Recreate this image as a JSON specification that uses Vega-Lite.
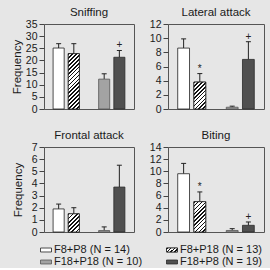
{
  "$schema": "https://vega.github.io/schema/vega-lite/v6.json",
  "background": "#e6e6e6",
  "autosize": {"type": "pad"},
  "padding": {"left": 10, "top": 6, "right": 8, "bottom": 1},
  "datasets": {
    "bars": [
      {"behavior": "Sniffing", "group": "F8+P8", "mean": 25.1, "upper": 26.9, "sig": ""},
      {"behavior": "Sniffing", "group": "F8+P18", "mean": 22.8, "upper": 26.9, "sig": ""},
      {"behavior": "Sniffing", "group": "F18+P18", "mean": 12.3, "upper": 14.5, "sig": ""},
      {"behavior": "Sniffing", "group": "F18+P8", "mean": 21.3, "upper": 24.1, "sig": "+"},
      {"behavior": "Lateral attack", "group": "F8+P8", "mean": 8.6, "upper": 9.9, "sig": ""},
      {"behavior": "Lateral attack", "group": "F8+P18", "mean": 3.8, "upper": 5.0, "sig": "*"},
      {"behavior": "Lateral attack", "group": "F18+P18", "mean": 0.25, "upper": 0.4, "sig": ""},
      {"behavior": "Lateral attack", "group": "F18+P8", "mean": 7.0, "upper": 9.5, "sig": "+"},
      {"behavior": "Frontal attack", "group": "F8+P8", "mean": 1.9, "upper": 2.3, "sig": ""},
      {"behavior": "Frontal attack", "group": "F8+P18", "mean": 1.5, "upper": 2.0, "sig": ""},
      {"behavior": "Frontal attack", "group": "F18+P18", "mean": 0.12, "upper": 0.42, "sig": ""},
      {"behavior": "Frontal attack", "group": "F18+P8", "mean": 3.7, "upper": 5.5, "sig": ""},
      {"behavior": "Biting", "group": "F8+P8", "mean": 9.6, "upper": 11.3, "sig": ""},
      {"behavior": "Biting", "group": "F8+P18", "mean": 5.0, "upper": 6.6, "sig": "*"},
      {"behavior": "Biting", "group": "F18+P18", "mean": 0.25, "upper": 0.55, "sig": ""},
      {"behavior": "Biting", "group": "F18+P8", "mean": 1.1, "upper": 1.65, "sig": "+"}
    ],
    "legendRows": [
      {"group": "F8+P8", "label": "F8+P8 (N = 14)", "col": 1, "row": 1},
      {"group": "F8+P18", "label": "F8+P18 (N = 13)", "col": 2, "row": 1},
      {"group": "F18+P18", "label": "F18+P18 (N = 10)", "col": 1, "row": 2},
      {"group": "F18+P8", "label": "F18+P8 (N = 19)", "col": 2, "row": 2}
    ]
  },
  "resolve": {"scale": {"x": "independent", "y": "independent"}},
  "vconcat": [
    {
      "resolve": {"scale": {"x": "independent", "y": "independent"}},
      "vconcat": [
        {
          "resolve": {"scale": {"x": "independent", "y": "independent"}},
          "hconcat": [
            {
              "title": "Sniffing",
              "width": 90, "height": 85,
              "data": {"name": "bars"},
              "transform": [{"filter": "datum.behavior == 'Sniffing'"}],
              "encoding": {
                "x": {"field": "group", "type": "nominal", "scale": {"domain": ["F8+P8", "F8+P18", "", "F18+P18", "F18+P8"], "paddingInner": 0.27, "paddingOuter": 0.6}, "axis": null}
              },
              "layer": [
                {"mark": {"type": "rule", "color": "#222", "strokeWidth": 1},
                 "encoding": {"y": {"field": "mean", "type": "quantitative", "scale": {"domain": [0, 35]}, "axis": {"values": [0, 5, 10, 15, 20, 25, 30, 35], "tickCount": 10, "format": "d", "labelOverlap": false, "title": "Frequency"}}, "y2": {"field": "upper"}}},
                {"mark": {"type": "tick", "size": 5, "thickness": 1, "color": "#222", "opacity": 1},
                 "encoding": {"y": {"field": "upper", "type": "quantitative"}}},
                {"mark": {"type": "bar", "strokeWidth": 0.8},
                 "encoding": {"y": {"field": "mean", "type": "quantitative"},
                   "fill": {"field": "group", "type": "nominal", "scale": {"domain": ["F8+P8", "F8+P18", "F18+P18", "F18+P8"], "range": ["#ffffff", "#ffffff", "#a3a3a3", "#505050"]}, "legend": null},
                   "stroke": {"field": "group", "type": "nominal", "scale": {"domain": ["F8+P8", "F8+P18", "F18+P18", "F18+P8"], "range": ["#222222", "#222222", "#555555", "#2a2a2a"]}, "legend": null}}},
                {"transform": [{"filter": "datum.group == 'F8+P18'"}],
                 "mark": {"type": "bar", "stroke": "#222", "strokeWidth": 0.8,
                   "fill": {"gradient": "linear", "x1": 0, "y1": 0, "x2": 0.2308, "y2": 1.1538, "stops": [
                     {"offset": 0, "color": "#111"}, {"offset": 0.0235, "color": "#111"}, {"offset": 0.0235, "color": "#fff"},
                     {"offset": 0.0588, "color": "#fff"}, {"offset": 0.0588, "color": "#111"}, {"offset": 0.0824, "color": "#111"}, {"offset": 0.0824, "color": "#fff"},
                     {"offset": 0.1176, "color": "#fff"}, {"offset": 0.1176, "color": "#111"}, {"offset": 0.1412, "color": "#111"}, {"offset": 0.1412, "color": "#fff"},
                     {"offset": 0.1765, "color": "#fff"}, {"offset": 0.1765, "color": "#111"}, {"offset": 0.2, "color": "#111"}, {"offset": 0.2, "color": "#fff"},
                     {"offset": 0.2353, "color": "#fff"}, {"offset": 0.2353, "color": "#111"}, {"offset": 0.2588, "color": "#111"}, {"offset": 0.2588, "color": "#fff"},
                     {"offset": 0.2941, "color": "#fff"}, {"offset": 0.2941, "color": "#111"}, {"offset": 0.3176, "color": "#111"}, {"offset": 0.3176, "color": "#fff"},
                     {"offset": 0.3529, "color": "#fff"}, {"offset": 0.3529, "color": "#111"}, {"offset": 0.3765, "color": "#111"}, {"offset": 0.3765, "color": "#fff"},
                     {"offset": 0.4118, "color": "#fff"}, {"offset": 0.4118, "color": "#111"}, {"offset": 0.4353, "color": "#111"}, {"offset": 0.4353, "color": "#fff"},
                     {"offset": 0.4706, "color": "#fff"}, {"offset": 0.4706, "color": "#111"}, {"offset": 0.4941, "color": "#111"}, {"offset": 0.4941, "color": "#fff"},
                     {"offset": 0.5294, "color": "#fff"}, {"offset": 0.5294, "color": "#111"}, {"offset": 0.5529, "color": "#111"}, {"offset": 0.5529, "color": "#fff"},
                     {"offset": 0.5882, "color": "#fff"}, {"offset": 0.5882, "color": "#111"}, {"offset": 0.6118, "color": "#111"}, {"offset": 0.6118, "color": "#fff"},
                     {"offset": 0.6471, "color": "#fff"}, {"offset": 0.6471, "color": "#111"}, {"offset": 0.6706, "color": "#111"}, {"offset": 0.6706, "color": "#fff"},
                     {"offset": 0.7059, "color": "#fff"}, {"offset": 0.7059, "color": "#111"}, {"offset": 0.7294, "color": "#111"}, {"offset": 0.7294, "color": "#fff"},
                     {"offset": 0.7647, "color": "#fff"}, {"offset": 0.7647, "color": "#111"}, {"offset": 0.7882, "color": "#111"}, {"offset": 0.7882, "color": "#fff"},
                     {"offset": 0.8235, "color": "#fff"}, {"offset": 0.8235, "color": "#111"}, {"offset": 0.8471, "color": "#111"}, {"offset": 0.8471, "color": "#fff"},
                     {"offset": 0.8824, "color": "#fff"}, {"offset": 0.8824, "color": "#111"}, {"offset": 0.9059, "color": "#111"}, {"offset": 0.9059, "color": "#fff"},
                     {"offset": 0.9412, "color": "#fff"}, {"offset": 0.9412, "color": "#111"}, {"offset": 0.9647, "color": "#111"}, {"offset": 0.9647, "color": "#fff"},
                     {"offset": 1, "color": "#fff"}]}},
                 "encoding": {"y": {"field": "mean", "type": "quantitative"}}},
                {"transform": [{"filter": "datum.sig != ''"}],
                 "mark": {"type": "text", "baseline": "alphabetic", "dy": -2, "fontSize": 10, "color": "#222"},
                 "encoding": {"y": {"field": "upper", "type": "quantitative"}, "text": {"field": "sig"}}}
              ]
            },
            {
              "title": "Lateral attack",
              "width": 96, "height": 85,
              "data": {"name": "bars"},
              "transform": [{"filter": "datum.behavior == 'Lateral attack'"}],
              "encoding": {
                "x": {"field": "group", "type": "nominal", "scale": {"domain": ["F8+P8", "F8+P18", "", "F18+P18", "F18+P8"], "paddingInner": 0.27, "paddingOuter": 0.6}, "axis": null}
              },
              "layer": [
                {"mark": {"type": "rule", "color": "#222", "strokeWidth": 1},
                 "encoding": {"y": {"field": "mean", "type": "quantitative", "scale": {"domain": [0, 12]}, "axis": {"values": [0, 2, 4, 6, 8, 10, 12], "tickCount": 10, "format": "d", "labelOverlap": false, "title": null}}, "y2": {"field": "upper"}}},
                {"mark": {"type": "tick", "size": 5, "thickness": 1, "color": "#222", "opacity": 1},
                 "encoding": {"y": {"field": "upper", "type": "quantitative"}}},
                {"mark": {"type": "bar", "strokeWidth": 0.8},
                 "encoding": {"y": {"field": "mean", "type": "quantitative"},
                   "fill": {"field": "group", "type": "nominal", "scale": {"domain": ["F8+P8", "F8+P18", "F18+P18", "F18+P8"], "range": ["#ffffff", "#ffffff", "#a3a3a3", "#505050"]}, "legend": null},
                   "stroke": {"field": "group", "type": "nominal", "scale": {"domain": ["F8+P8", "F8+P18", "F18+P18", "F18+P8"], "range": ["#222222", "#222222", "#555555", "#2a2a2a"]}, "legend": null}}},
                {"transform": [{"filter": "datum.group == 'F8+P18'"}],
                 "mark": {"type": "bar", "stroke": "#222", "strokeWidth": 0.8,
                   "fill": {"gradient": "linear", "x1": 0, "y1": 0, "x2": 0.5301, "y2": 1.2065, "stops": [
                     {"offset": 0, "color": "#111"}, {"offset": 0.04, "color": "#111"}, {"offset": 0.04, "color": "#fff"},
                     {"offset": 0.1, "color": "#fff"}, {"offset": 0.1, "color": "#111"}, {"offset": 0.14, "color": "#111"}, {"offset": 0.14, "color": "#fff"},
                     {"offset": 0.2, "color": "#fff"}, {"offset": 0.2, "color": "#111"}, {"offset": 0.24, "color": "#111"}, {"offset": 0.24, "color": "#fff"},
                     {"offset": 0.3, "color": "#fff"}, {"offset": 0.3, "color": "#111"}, {"offset": 0.34, "color": "#111"}, {"offset": 0.34, "color": "#fff"},
                     {"offset": 0.4, "color": "#fff"}, {"offset": 0.4, "color": "#111"}, {"offset": 0.44, "color": "#111"}, {"offset": 0.44, "color": "#fff"},
                     {"offset": 0.5, "color": "#fff"}, {"offset": 0.5, "color": "#111"}, {"offset": 0.54, "color": "#111"}, {"offset": 0.54, "color": "#fff"},
                     {"offset": 0.6, "color": "#fff"}, {"offset": 0.6, "color": "#111"}, {"offset": 0.64, "color": "#111"}, {"offset": 0.64, "color": "#fff"},
                     {"offset": 0.7, "color": "#fff"}, {"offset": 0.7, "color": "#111"}, {"offset": 0.74, "color": "#111"}, {"offset": 0.74, "color": "#fff"},
                     {"offset": 0.8, "color": "#fff"}, {"offset": 0.8, "color": "#111"}, {"offset": 0.84, "color": "#111"}, {"offset": 0.84, "color": "#fff"},
                     {"offset": 0.9, "color": "#fff"}, {"offset": 0.9, "color": "#111"}, {"offset": 0.94, "color": "#111"}, {"offset": 0.94, "color": "#fff"},
                     {"offset": 1, "color": "#fff"}]}},
                 "encoding": {"y": {"field": "mean", "type": "quantitative"}}},
                {"transform": [{"filter": "datum.sig != ''"}],
                 "mark": {"type": "text", "baseline": "alphabetic", "dy": -2, "fontSize": 10, "color": "#222"},
                 "encoding": {"y": {"field": "upper", "type": "quantitative"}, "text": {"field": "sig"}}}
              ]
            }
          ],
          "spacing": 13
        },
        {
          "resolve": {"scale": {"x": "independent", "y": "independent"}},
          "hconcat": [
            {
              "title": "Frontal attack",
              "width": 90, "height": 85,
              "data": {"name": "bars"},
              "transform": [{"filter": "datum.behavior == 'Frontal attack'"}],
              "encoding": {
                "x": {"field": "group", "type": "nominal", "scale": {"domain": ["F8+P8", "F8+P18", "", "F18+P18", "F18+P8"], "paddingInner": 0.27, "paddingOuter": 0.6}, "axis": null}
              },
              "layer": [
                {"mark": {"type": "rule", "color": "#222", "strokeWidth": 1},
                 "encoding": {"y": {"field": "mean", "type": "quantitative", "scale": {"domain": [0, 7]}, "axis": {"values": [0, 1, 2, 3, 4, 5, 6, 7], "tickCount": 10, "format": "d", "labelOverlap": false, "title": "Frequency"}}, "y2": {"field": "upper"}}},
                {"mark": {"type": "tick", "size": 5, "thickness": 1, "color": "#222", "opacity": 1},
                 "encoding": {"y": {"field": "upper", "type": "quantitative"}}},
                {"mark": {"type": "bar", "strokeWidth": 0.8},
                 "encoding": {"y": {"field": "mean", "type": "quantitative"},
                   "fill": {"field": "group", "type": "nominal", "scale": {"domain": ["F8+P8", "F8+P18", "F18+P18", "F18+P8"], "range": ["#ffffff", "#ffffff", "#a3a3a3", "#505050"]}, "legend": null},
                   "stroke": {"field": "group", "type": "nominal", "scale": {"domain": ["F8+P8", "F8+P18", "F18+P18", "F18+P8"], "range": ["#222222", "#222222", "#555555", "#2a2a2a"]}, "legend": null}}},
                {"transform": [{"filter": "datum.group == 'F8+P18'"}],
                 "mark": {"type": "bar", "stroke": "#222", "strokeWidth": 0.8,
                   "fill": {"gradient": "linear", "x1": 0, "y1": 0, "x2": 0.7146, "y2": 1.1738, "stops": [
                     {"offset": 0, "color": "#111"}, {"offset": 0.0571, "color": "#111"}, {"offset": 0.0571, "color": "#fff"},
                     {"offset": 0.1429, "color": "#fff"}, {"offset": 0.1429, "color": "#111"}, {"offset": 0.2, "color": "#111"}, {"offset": 0.2, "color": "#fff"},
                     {"offset": 0.2857, "color": "#fff"}, {"offset": 0.2857, "color": "#111"}, {"offset": 0.3429, "color": "#111"}, {"offset": 0.3429, "color": "#fff"},
                     {"offset": 0.4286, "color": "#fff"}, {"offset": 0.4286, "color": "#111"}, {"offset": 0.4857, "color": "#111"}, {"offset": 0.4857, "color": "#fff"},
                     {"offset": 0.5714, "color": "#fff"}, {"offset": 0.5714, "color": "#111"}, {"offset": 0.6286, "color": "#111"}, {"offset": 0.6286, "color": "#fff"},
                     {"offset": 0.7143, "color": "#fff"}, {"offset": 0.7143, "color": "#111"}, {"offset": 0.7714, "color": "#111"}, {"offset": 0.7714, "color": "#fff"},
                     {"offset": 0.8571, "color": "#fff"}, {"offset": 0.8571, "color": "#111"}, {"offset": 0.9143, "color": "#111"}, {"offset": 0.9143, "color": "#fff"},
                     {"offset": 1, "color": "#fff"}]}},
                 "encoding": {"y": {"field": "mean", "type": "quantitative"}}}
              ]
            },
            {
              "title": "Biting",
              "width": 96, "height": 85,
              "data": {"name": "bars"},
              "transform": [{"filter": "datum.behavior == 'Biting'"}],
              "encoding": {
                "x": {"field": "group", "type": "nominal", "scale": {"domain": ["F8+P8", "F8+P18", "", "F18+P18", "F18+P8"], "paddingInner": 0.27, "paddingOuter": 0.6}, "axis": null}
              },
              "layer": [
                {"mark": {"type": "rule", "color": "#222", "strokeWidth": 1},
                 "encoding": {"y": {"field": "mean", "type": "quantitative", "scale": {"domain": [0, 14]}, "axis": {"values": [0, 2, 4, 6, 8, 10, 12, 14], "tickCount": 10, "format": "d", "labelOverlap": false, "title": null}}, "y2": {"field": "upper"}}},
                {"mark": {"type": "tick", "size": 5, "thickness": 1, "color": "#222", "opacity": 1},
                 "encoding": {"y": {"field": "upper", "type": "quantitative"}}},
                {"mark": {"type": "bar", "strokeWidth": 0.8},
                 "encoding": {"y": {"field": "mean", "type": "quantitative"},
                   "fill": {"field": "group", "type": "nominal", "scale": {"domain": ["F8+P8", "F8+P18", "F18+P18", "F18+P8"], "range": ["#ffffff", "#ffffff", "#a3a3a3", "#505050"]}, "legend": null},
                   "stroke": {"field": "group", "type": "nominal", "scale": {"domain": ["F8+P8", "F8+P18", "F18+P18", "F18+P8"], "range": ["#222222", "#222222", "#555555", "#2a2a2a"]}, "legend": null}}},
                {"transform": [{"filter": "datum.group == 'F8+P18'"}],
                 "mark": {"type": "bar", "stroke": "#222", "strokeWidth": 0.8,
                   "fill": {"gradient": "linear", "x1": 0, "y1": 0, "x2": 0.4691, "y2": 1.2064, "stops": [
                     {"offset": 0, "color": "#111"}, {"offset": 0.0364, "color": "#111"}, {"offset": 0.0364, "color": "#fff"},
                     {"offset": 0.0909, "color": "#fff"}, {"offset": 0.0909, "color": "#111"}, {"offset": 0.1273, "color": "#111"}, {"offset": 0.1273, "color": "#fff"},
                     {"offset": 0.1818, "color": "#fff"}, {"offset": 0.1818, "color": "#111"}, {"offset": 0.2182, "color": "#111"}, {"offset": 0.2182, "color": "#fff"},
                     {"offset": 0.2727, "color": "#fff"}, {"offset": 0.2727, "color": "#111"}, {"offset": 0.3091, "color": "#111"}, {"offset": 0.3091, "color": "#fff"},
                     {"offset": 0.3636, "color": "#fff"}, {"offset": 0.3636, "color": "#111"}, {"offset": 0.4, "color": "#111"}, {"offset": 0.4, "color": "#fff"},
                     {"offset": 0.4545, "color": "#fff"}, {"offset": 0.4545, "color": "#111"}, {"offset": 0.4909, "color": "#111"}, {"offset": 0.4909, "color": "#fff"},
                     {"offset": 0.5455, "color": "#fff"}, {"offset": 0.5455, "color": "#111"}, {"offset": 0.5818, "color": "#111"}, {"offset": 0.5818, "color": "#fff"},
                     {"offset": 0.6364, "color": "#fff"}, {"offset": 0.6364, "color": "#111"}, {"offset": 0.6727, "color": "#111"}, {"offset": 0.6727, "color": "#fff"},
                     {"offset": 0.7273, "color": "#fff"}, {"offset": 0.7273, "color": "#111"}, {"offset": 0.7636, "color": "#111"}, {"offset": 0.7636, "color": "#fff"},
                     {"offset": 0.8182, "color": "#fff"}, {"offset": 0.8182, "color": "#111"}, {"offset": 0.8545, "color": "#111"}, {"offset": 0.8545, "color": "#fff"},
                     {"offset": 0.9091, "color": "#fff"}, {"offset": 0.9091, "color": "#111"}, {"offset": 0.9455, "color": "#111"}, {"offset": 0.9455, "color": "#fff"},
                     {"offset": 1, "color": "#fff"}]}},
                 "encoding": {"y": {"field": "mean", "type": "quantitative"}}},
                {"transform": [{"filter": "datum.sig != ''"}],
                 "mark": {"type": "text", "baseline": "alphabetic", "dy": -2, "fontSize": 10, "color": "#222"},
                 "encoding": {"y": {"field": "upper", "type": "quantitative"}, "text": {"field": "sig"}}}
              ]
            }
          ],
          "spacing": 13
        }
      ],
      "spacing": 14
    },
    {
      "width": 165, "height": 12,
      "view": {"stroke": null},
      "data": {"name": "legendRows"},
      "encoding": {
        "x": {"field": "col", "type": "quantitative", "scale": {"domain": [1, 2], "range": [2, 128]}, "axis": null},
        "y": {"field": "row", "type": "quantitative", "scale": {"domain": [1, 2], "range": [0, 12]}, "axis": null}
      },
      "layer": [
        {"mark": {"type": "point", "shape": "M-1,-0.36H1V0.36H-1Z", "size": 121, "filled": true, "opacity": 1, "strokeWidth": 0.8},
         "encoding": {
           "fill": {"field": "group", "type": "nominal", "scale": {"domain": ["F8+P8", "F8+P18", "F18+P18", "F18+P8"], "range": ["#ffffff", "#ffffff", "#a3a3a3", "#505050"]}, "legend": null},
           "stroke": {"field": "group", "type": "nominal", "scale": {"domain": ["F8+P8", "F8+P18", "F18+P18", "F18+P8"], "range": ["#222222", "#222222", "#555555", "#2a2a2a"]}, "legend": null}}},
        {"transform": [{"filter": "datum.group == 'F8+P18'"}],
         "mark": {"type": "point", "shape": "M-1,-0.36H1V0.36H-1Z", "size": 121, "filled": true, "opacity": 1, "stroke": "#222", "strokeWidth": 0.8,
           "fill": {"gradient": "linear", "x1": 0, "y1": 0, "x2": 1.204, "y2": 0.438, "stops": [
             {"offset": 0, "color": "#111"}, {"offset": 0.1, "color": "#111"}, {"offset": 0.1, "color": "#fff"},
             {"offset": 0.25, "color": "#fff"}, {"offset": 0.25, "color": "#111"}, {"offset": 0.35, "color": "#111"}, {"offset": 0.35, "color": "#fff"},
             {"offset": 0.5, "color": "#fff"}, {"offset": 0.5, "color": "#111"}, {"offset": 0.6, "color": "#111"}, {"offset": 0.6, "color": "#fff"},
             {"offset": 0.75, "color": "#fff"}, {"offset": 0.75, "color": "#111"}, {"offset": 0.85, "color": "#111"}, {"offset": 0.85, "color": "#fff"},
             {"offset": 1, "color": "#fff"}]}}},
        {"mark": {"type": "text", "align": "left", "baseline": "middle", "dx": 8, "fontSize": 11, "color": "#1a1a1a"},
         "encoding": {"text": {"field": "label"}}}
      ]
    }
  ],
  "spacing": 6,
  "config": {
    "font": "Liberation Sans",
    "view": {"stroke": "#555555", "strokeWidth": 1},
    "title": {"fontSize": 11.5, "fontWeight": "normal", "color": "#1a1a1a", "offset": 1},
    "axis": {"labelFontSize": 10.5, "labelColor": "#1a1a1a", "tickColor": "#444444", "tickSize": 5, "domain": false, "grid": false, "titleFontSize": 11.5, "titleFontWeight": "normal", "titleColor": "#1a1a1a", "labelPadding": 2, "titlePadding": 3, "minExtent": 18}
  }
}
